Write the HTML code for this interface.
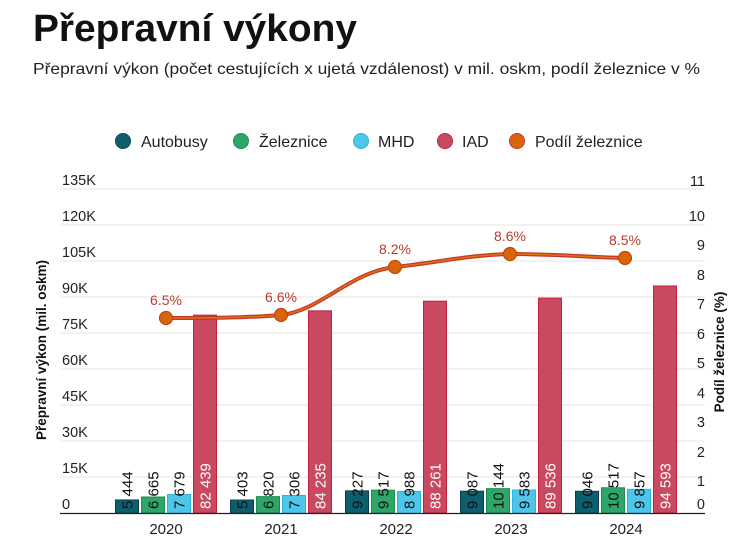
<!DOCTYPE html>
<html><head><meta charset="utf-8"><style>
body{margin:0;background:#fff;font-family:"Liberation Sans",sans-serif;}
svg{display:block}
</style></head><body>
<svg width="756" height="545" xmlns="http://www.w3.org/2000/svg" font-family="Liberation Sans, sans-serif">
<text x="33" y="41" font-size="38" font-weight="bold" fill="#111" textLength="324" lengthAdjust="spacingAndGlyphs">Přepravní výkony</text>
<text x="33" y="74" font-size="16" fill="#222" textLength="667" lengthAdjust="spacingAndGlyphs">Přepravní výkon (počet cestujících x ujetá vzdálenost) v mil. oskm, podíl železnice v %</text>
<g font-size="16" fill="#222">
<circle cx="123" cy="141" r="7.5" fill="#0d5f6e" stroke="#0a4a56"/><text x="141" y="147">Autobusy</text>
<circle cx="241" cy="141" r="7.5" fill="#2ea66a" stroke="#1f8a52"/><text x="259" y="147">Železnice</text>
<circle cx="361" cy="141" r="7.5" fill="#4ec6ea" stroke="#2fb2dc"/><text x="378" y="147">MHD</text>
<circle cx="445" cy="141" r="7.5" fill="#c94a60" stroke="#c0203a"/><text x="462" y="147">IAD</text>
<circle cx="517" cy="141" r="7.5" fill="#d9650a" stroke="#c0392b"/><text x="535" y="147">Podíl železnice</text>
</g>
<g stroke="#e6e6e6" stroke-width="1">
<line x1="60" x2="705" y1="189" y2="189"/><line x1="60" x2="705" y1="225" y2="225"/><line x1="60" x2="705" y1="261" y2="261"/><line x1="60" x2="705" y1="297" y2="297"/><line x1="60" x2="705" y1="333" y2="333"/><line x1="60" x2="705" y1="369" y2="369"/><line x1="60" x2="705" y1="405" y2="405"/><line x1="60" x2="705" y1="441" y2="441"/><line x1="60" x2="705" y1="477" y2="477"/>
</g>
<g font-size="14.5" fill="#222">
<text x="62" y="185">135K</text><text x="62" y="221">120K</text><text x="62" y="257">105K</text><text x="62" y="293">90K</text><text x="62" y="329">75K</text><text x="62" y="365">60K</text><text x="62" y="401">45K</text><text x="62" y="437">30K</text><text x="62" y="473">15K</text><text x="62" y="509">0</text>
</g>
<g font-size="14.5" fill="#222" text-anchor="end">
<text x="705" y="186">11</text><text x="705" y="221">10</text><text x="705" y="250">9</text><text x="705" y="280">8</text><text x="705" y="309">7</text><text x="705" y="339">6</text><text x="705" y="368">5</text><text x="705" y="398">4</text><text x="705" y="427">3</text><text x="705" y="457">2</text><text x="705" y="486">1</text><text x="705" y="509">0</text>
</g>
<text transform="translate(46,350) rotate(-90)" text-anchor="middle" font-size="13.5" font-weight="bold" fill="#111">Přepravní výkon (mil. oskm)</text>
<text transform="translate(724,352) rotate(-90)" text-anchor="middle" font-size="13.5" font-weight="bold" fill="#111">Podíl železnice (%)</text>
<g id="bars"></g>
<line x1="60" x2="705" y1="513.5" y2="513.5" stroke="#222" stroke-width="1.2"/>
<g font-size="15" fill="#222" text-anchor="middle">
<text x="166" y="534">2020</text><text x="281" y="534">2021</text><text x="396" y="534">2022</text><text x="511" y="534">2023</text><text x="626" y="534">2024</text>
</g>
<path d="M166,318 C205,318 245,318 281,315 C320,311 350,272 395,267 C440,262 470,255 510,254 C550,254 590,257 625,258" fill="none" stroke="#c0392b" stroke-width="4"/>
<path d="M166,318 C205,318 245,318 281,315 C320,311 350,272 395,267 C440,262 470,255 510,254 C550,254 590,257 625,258" fill="none" stroke="#e07010" stroke-width="1.5"/>
<g fill="#d9650a" stroke="#c04a0a" stroke-width="1.2">
<circle cx="166" cy="318" r="6.5"/><circle cx="281" cy="315" r="6.5"/><circle cx="395" cy="267" r="6.5"/><circle cx="510" cy="254" r="6.5"/><circle cx="625" cy="258" r="6.5"/>
</g>
<g font-size="14" fill="#c0392b" text-anchor="middle">
<text x="166" y="305">6.5%</text><text x="281" y="302">6.6%</text><text x="395" y="254">8.2%</text><text x="510" y="241">8.6%</text><text x="625" y="245">8.5%</text>
</g>
</svg>
<script>
var data=[[5444,6665,7679,82439],[5403,6820,7306,84235],[9227,9517,8988,88261],[9087,10144,9583,89536],[9046,10517,9857,94593]];
var fills=["#0d5f6e","#2ea66a","#4ec6ea","#c94a60"],strokes=["#083f4a","#1f8a52","#2fb2dc","#c0203a"];
var g=document.getElementById("bars"),s="";
function fmt(v){var t=String(v);return t.length>3?t.slice(0,t.length-3)+" "+t.slice(-3):t;}
for(var i=0;i<5;i++){var x0=115+115*i;for(var j=0;j<4;j++){var v=data[i][j],h=v*0.0024,x=x0+26*j;
s+='<rect x="'+(x+0.5)+'" y="'+(513-h)+'" width="23" height="'+h+'" fill="'+fills[j]+'" stroke="'+strokes[j]+'" stroke-width="1"/>';
s+='<text transform="translate('+(x+17.5)+',509) rotate(-90)" font-size="15" fill="'+(j==3?'#fff':'#111')+'">'+fmt(v)+'</text>';}}
g.innerHTML=s;
</script>
</body></html>
